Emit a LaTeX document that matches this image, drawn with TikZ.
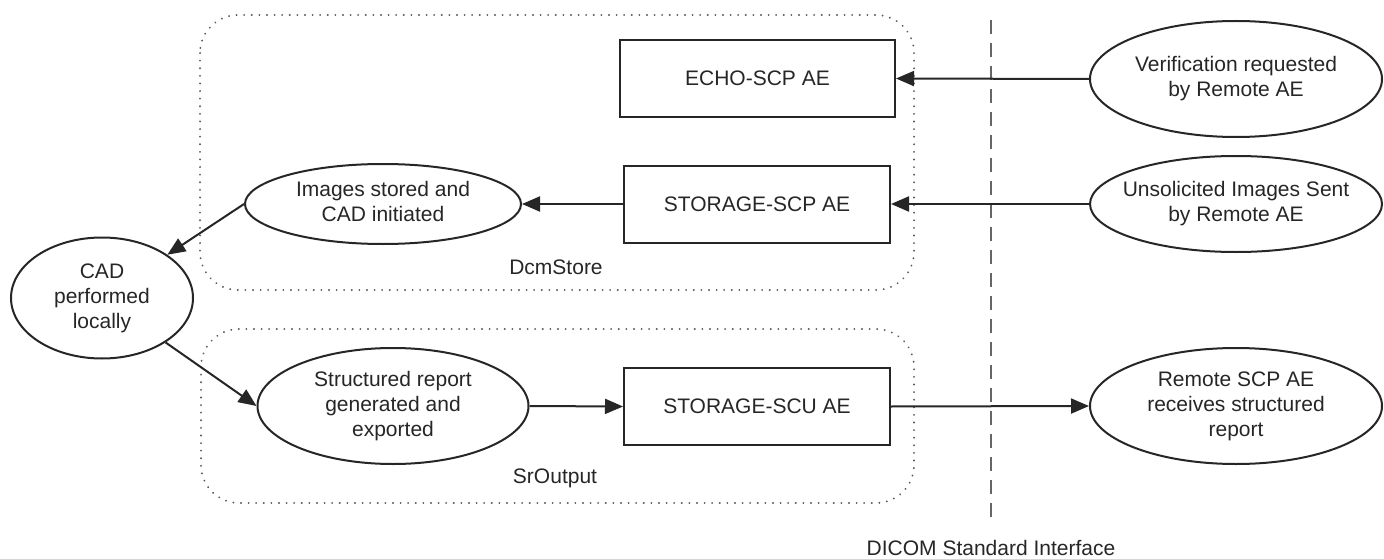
\documentclass[tikz,border=0pt]{standalone}
\usepackage{fontspec}
\setmainfont{Liberation Sans}
\usetikzlibrary{shapes.geometric,arrows.meta}
\newcommand{\tb}[1]{\makebox[0pt]{\begin{tabular}{@{}c@{}}#1\end{tabular}}}
\begin{document}
\begin{tikzpicture}[x=1pt,y=-1pt,
  every node/.style={font=\fontsize{21}{25}\selectfont, text=black!85},
  ell/.style={draw=black!85, ellipse, line width=2pt, inner sep=0pt},
  box/.style={draw=black!85, rectangle, line width=2pt, minimum height=77pt, inner sep=0pt},
  conn/.style={draw=black!85, line width=2pt, -{Triangle[length=18pt,width=15pt]}},
  grp/.style={draw=black!65, line width=2pt, dash pattern=on 0.1pt off 7.5pt, line cap=round, rounded corners=38pt},
  sepline/.style={draw=black!60, line width=2.8pt, dash pattern=on 14pt off 9pt},
  lbl/.style={inner sep=0pt}]
\useasboundingbox (0,0) rectangle (1384,559);
% groups
\draw[grp] (200,15) rectangle (914,290);
\draw[grp] (201,329) rectangle (914,503);
\node[lbl] (dcmlbl) at (556,267) {DcmStore};
\node[lbl] (srlbl) at (555,478) {SrOutput};
% interface line
\coordinate (itop) at (991,20);
\coordinate (ibot) at (991,518);
\draw[sepline] (itop) -- (ibot);
\node[lbl] (ilbl) at (991,548) {DICOM Standard Interface};
% boxes
\node[box, minimum width=275pt] (echo) at (757.5,78.5) {ECHO-SCP AE};
\node[box, minimum width=266pt] (scp) at (757,204) {STORAGE-SCP AE};
\node[box, minimum width=266pt] (scu) at (757,406.5) {STORAGE-SCU AE};
% ellipses
\node[ell, minimum width=292pt, minimum height=116pt] (ver) at (1236,79) {\tb{Verification requested\\by Remote AE}};
\node[ell, minimum width=292pt, minimum height=96pt] (uns) at (1236,204) {\tb{Unsolicited Images Sent\\by Remote AE}};
\node[ell, minimum width=276pt, minimum height=80pt] (img) at (383,204) {\tb{Images stored and\\CAD initiated}};
\node[ell, minimum width=182pt, minimum height=121pt] (cad) at (102,298) {\tb{CAD\\performed\\locally}};
\node[ell, minimum width=271pt, minimum height=116pt] (sr) at (393,406) {\tb{Structured report\\generated and\\exported}};
\node[ell, minimum width=292pt, minimum height=116pt] (rem) at (1236,406) {\tb{Remote SCP AE\\receives structured\\report}};
% connectors
\draw[conn] (ver.west) -- (echo.east);
\draw[conn] (uns.west) -- (scp.east);
\draw[conn] (scp.west) -- (img.east);
\draw[conn] (img.west) -- (cad);
\draw[conn] (cad) -- (sr.west);
\draw[conn] (sr.east) -- (scu.west);
\draw[conn] (scu.east) -- (rem.west);
\end{tikzpicture}
\end{document}
